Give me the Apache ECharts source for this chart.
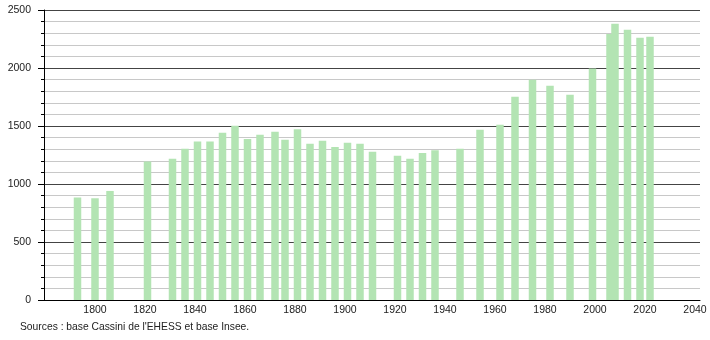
<!DOCTYPE html>
<html>
<head>
<meta charset="utf-8">
<script src="https://cdn.jsdelivr.net/npm/echarts@6/dist/echarts.min.js"></script>
<style>
html,body{margin:0;padding:0;background:#fff;}
#chart{width:710px;height:340px;}
</style>
</head>
<body>
<div id="chart"></div>
<script>
const years = [1793,1800,1806,1821,1831,1836,1841,1846,1851,1856,1861,1866,1872,1876,1881,1886,1891,1896,1901,1906,1911,1921,1926,1931,1936,1946,1954,1962,1968,1975,1982,1990,1999,2006,2008,2013,2018,2022];
const population = [883,877,940,1193,1217,1303,1366,1366,1441,1502,1389,1424,1450,1381,1473,1346,1372,1320,1355,1346,1277,1243,1217,1268,1292,1303,1467,1510,1752,1899,1847,1769,1996,2293,2382,2330,2261,2270];
const xTickLabels = [1800,1820,1840,1860,1880,1900,1920,1940,1960,1980,2000,2020,2040];
const yTickLabels = [0,500,1000,1500,2000,2500];
const sourceText = "Sources : base Cassini de l'EHESS et base Insee.";

const chart = echarts.init(document.getElementById('chart'), null, {renderer:'canvas'});
const font = 'Liberation Sans';
chart.setOption({
  animation:false,
  backgroundColor:'#ffffff',
  grid:{left:44,right:10,top:10,bottom:40,containLabel:false},
  xAxis:{
    type:'value', min:1779.6, max:2042,
    axisLine:{show:true,onZero:false,lineStyle:{color:'#000',width:1}},
    axisTick:{show:false},
    splitLine:{show:false},
    axisLabel:{customValues:xTickLabels,color:'#222',fontFamily:font,fontSize:10.5,margin:5,
      formatter:v=>String(v)}
  },
  yAxis:{
    type:'value', min:yTickLabels[0], max:yTickLabels[yTickLabels.length-1], interval:500,
    axisLine:{show:true,lineStyle:{color:'#000',width:1}},
    axisTick:{show:true,length:6,lineStyle:{color:'#000'}},
    minorTick:{show:true,splitNumber:5,length:3,lineStyle:{color:'#000'}},
    splitLine:{show:true,lineStyle:{color:'#444',width:1}},
    minorSplitLine:{show:true,lineStyle:{color:'#c8c8c8',width:1}},
    axisLabel:{color:'#222',fontFamily:font,fontSize:10.5,margin:13,formatter:v=>String(v)}
  },
  series:[{
    type:'bar',
    data:years.map((y,i)=>[y,population[i]]),
    barWidth:7.5,
    itemStyle:{color:'#b3e4b3'}
  }],
  graphic:[{
    type:'text', left:20, top:322,
    style:{text:sourceText,fill:'#222',font:'10.3px "Liberation Sans"'}
  }]
});
</script>
</body>
</html>
